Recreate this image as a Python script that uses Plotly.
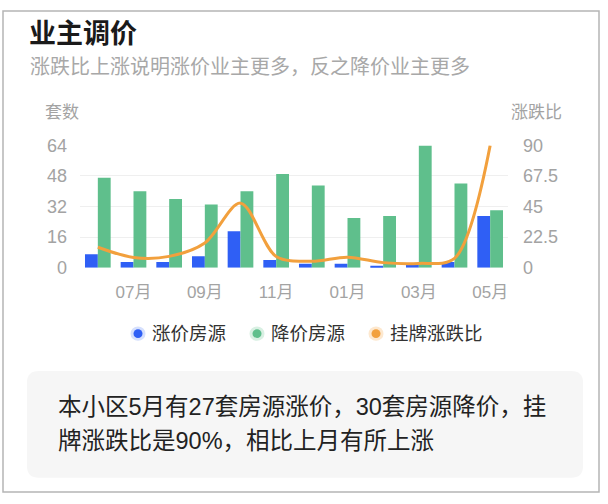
import plotly.graph_objects as go

months = ["06月", "07月", "08月", "09月", "10月", "11月", "12月", "01月", "02月", "03月", "04月", "05月"]
tick_months = ["07月", "09月", "11月", "01月", "03月", "05月"]
up_counts = [7, 3, 3, 6, 19, 4, 2, 2, 1, 2, 3, 27]
down_counts = [47, 40, 36, 33, 40, 49, 43, 26, 27, 64, 44, 30]
ratio = [15, 7.5, 8.3, 18.2, 47.5, 8.2, 4.7, 7.7, 3.7, 3.1, 6.8, 90]
left_ticks = [0, 16, 32, 48, 64]
right_ticks = [0, 22.5, 45, 67.5, 90]
series_names = ["涨价房源", "降价房源", "挂牌涨跌比"]

W, H = 608, 504
FONT = "Liberation Sans, Noto Sans CJK SC, sans-serif"
BLUE = "#2f5ff5"
GREEN = "#5fbf8c"
ORANGE = "#f2a03d"
GRAY = "#a3a3a3"


def px(x):
    return x / W


def py(y):
    return (H - y) / H


fig = go.Figure()
fig.add_trace(go.Bar(x=months, y=up_counts, name=series_names[0], marker_color=BLUE,
                     marker_line_width=0, yaxis="y"))
fig.add_trace(go.Bar(x=months, y=down_counts, name=series_names[1], marker_color=GREEN,
                     marker_line_width=0, yaxis="y"))
fig.add_trace(go.Scatter(x=months, y=ratio, name=series_names[2], mode="lines",
                         line=dict(color=ORANGE, width=3, shape="spline", smoothing=0.9),
                         yaxis="y2"))

tickfont = dict(family=FONT, size=18, color=GRAY)

fig.update_layout(
    width=W, height=H,
    margin=dict(l=0, r=0, t=0, b=0),
    paper_bgcolor="white", plot_bgcolor="white",
    showlegend=False,
    barmode="group", bargap=0.28, bargroupgap=0,
    xaxis=dict(domain=[px(80), px(508)], type="category", categoryorder="array",
               categoryarray=months, tickmode="array", tickvals=tick_months,
               ticktext=tick_months, tickfont=dict(family=FONT, size=17, color=GRAY),
               showgrid=False, showline=False, zeroline=False, ticks="",
               ticklabelstandoff=12),
    yaxis=dict(domain=[py(268.3), py(141)], range=[0, 64], tickmode="array",
               tickvals=left_ticks, tickfont=tickfont, showgrid=True,
               gridcolor="#efefef", gridwidth=1, zeroline=False, showline=False,
               ticks="", ticklabelstandoff=12),
    yaxis2=dict(overlaying="y", side="right", range=[0, 90], tickmode="array",
                tickvals=right_ticks, ticktext=["0", "22.5", "45", "67.5", "90"],
                tickfont=tickfont, showgrid=False, zeroline=False, showline=False,
                ticks="", ticklabelstandoff=14),
)

ann = []
ann.append(dict(text="<b>业主调价</b>", x=px(27), y=py(25), xref="paper", yref="paper",
                xanchor="left", yanchor="middle", showarrow=False,
                font=dict(family=FONT, size=27, color="#1a1a1a")))
ann.append(dict(text="涨跌比上涨说明涨价业主更多，反之降价业主更多", x=px(28), y=py(59),
                xref="paper", yref="paper", xanchor="left", yanchor="middle",
                showarrow=False, font=dict(family=FONT, size=20, color="#a8a8a8")))
ann.append(dict(text="套数", x=px(62), y=py(107), xref="paper", yref="paper",
                xanchor="center", yanchor="middle", showarrow=False,
                font=dict(family=FONT, size=17, color=GRAY)))
ann.append(dict(text="涨跌比", x=px(536), y=py(107), xref="paper", yref="paper",
                xanchor="center", yanchor="middle", showarrow=False,
                font=dict(family=FONT, size=17, color=GRAY)))

shapes = []
legend_items = [(138, BLUE, "#d6e0fd"), (257, GREEN, "#d9f0e3"), (376, ORANGE, "#fde8cf")]
for (cx, col, halo), name in zip(legend_items, series_names):
    cy = 337
    shapes.append(dict(type="circle", xref="paper", yref="paper",
                       x0=px(cx - 7.5), x1=px(cx + 7.5), y0=py(cy + 7.5), y1=py(cy - 7.5),
                       fillcolor=halo, line_width=0))
    shapes.append(dict(type="circle", xref="paper", yref="paper",
                       x0=px(cx - 4.5), x1=px(cx + 4.5), y0=py(cy + 4.5), y1=py(cy - 4.5),
                       fillcolor=col, line_width=0))
    ann.append(dict(text=name, x=px(cx + 12), y=py(cy), xref="paper", yref="paper",
                    xanchor="left", yanchor="middle", showarrow=False,
                    font=dict(family=FONT, size=18.5, color="#333333")))

# summary box (rounded)
bx0, bx1, by0, by1, r = 27, 583, 376, 487, 12
X0, X1 = px(bx0), px(bx1)
Y0, Y1 = py(by1), py(by0)
rx, ry = r / W, r / H
path = (f"M {X0+rx},{Y0} L {X1-rx},{Y0} Q {X1},{Y0} {X1},{Y0+ry} "
        f"L {X1},{Y1-ry} Q {X1},{Y1} {X1-rx},{Y1} L {X0+rx},{Y1} "
        f"Q {X0},{Y1} {X0},{Y1-ry} L {X0},{Y0+ry} Q {X0},{Y0} {X0+rx},{Y0} Z")
shapes.append(dict(type="path", path=path, xref="paper", yref="paper",
                   fillcolor="#f6f6f6", line_width=0, layer="below"))
ann.append(dict(text="本小区5月有27套房源涨价，30套房源降价，挂", x=px(56), y=py(413),
                xref="paper", yref="paper", xanchor="left", yanchor="middle",
                showarrow=False, font=dict(family=FONT, size=23.5, color="#222222")))
ann.append(dict(text="牌涨跌比是90%，相比上月有所上涨", x=px(56), y=py(449),
                xref="paper", yref="paper", xanchor="left", yanchor="middle",
                showarrow=False, font=dict(family=FONT, size=23.5, color="#222222")))

# outer frame
shapes.append(dict(type="rect", xref="paper", yref="paper", x0=px(3), x1=px(599),
                   y0=py(502), y1=py(1), line=dict(color="#b5b5b5", width=1.5),
                   fillcolor="rgba(0,0,0,0)"))

fig.update_layout(annotations=ann, shapes=shapes)
fig.write_html("out.html")
